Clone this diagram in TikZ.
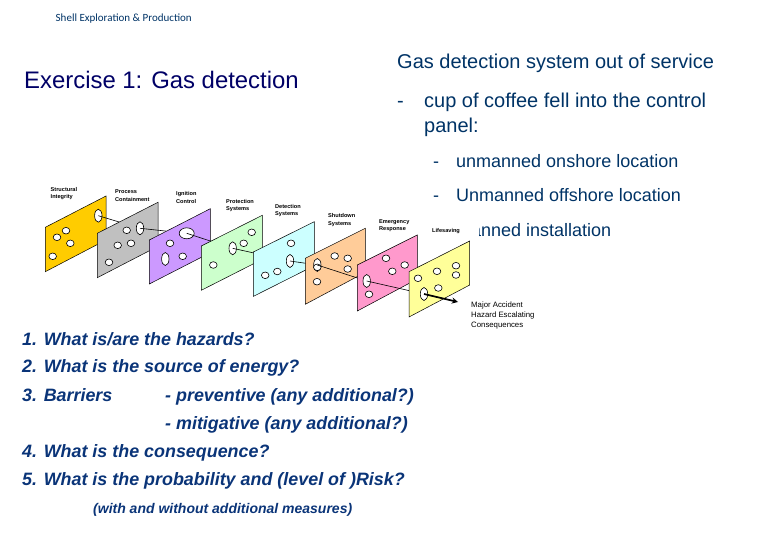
\documentclass[tikz,border=0pt]{standalone}
\usepackage{fontspec}
\setmainfont{Liberation Sans}
\newfontfamily\headfont{Carlito}
\usetikzlibrary{shapes.geometric}
\definecolor{navy}{HTML}{000066}
\definecolor{slideblue}{HTML}{003366}
\definecolor{boldblue}{HTML}{0A3478}
\tikzset{
  panel/.style={draw=black, line width=0.5pt},
  hole/.style={ellipse, draw=black, fill=white, line width=0.6pt, inner sep=0pt, minimum width=7.6pt, minimum height=6.6pt},
  tallhole/.style={hole, minimum width=7.4pt, minimum height=13pt},
  link/.style={black, line width=0.6pt},
  txt/.style={anchor=base west, inner sep=0pt, text=slideblue, font=\fontsize{20}{24}\selectfont},
  subtxt/.style={txt, font=\fontsize{18}{22}\selectfont},
  question/.style={txt, text=boldblue, font=\fontsize{17.9}{21}\selectfont\bfseries\itshape},
  lbl/.style={anchor=west, inner sep=0pt, align=left, font=\fontsize{5.6}{7.4}\selectfont\bfseries}
}
\begin{document}
\begin{tikzpicture}[x=1pt,y=-1pt]
\useasboundingbox (0,0) rectangle (780,540);

% centres of the holes that the links run through
\coordinate (c1) at (98.3,215.7);
\coordinate (c2) at (140,228.3);
\coordinate (c3) at (186.7,233.3);
\coordinate (c4) at (232.7,248.3);
\coordinate (c5) at (290,261);
\coordinate (c6) at (317.3,265);
\coordinate (c7) at (366.7,281);
\coordinate (c8) at (424,294);
\coordinate (arrowend) at (458,302);

% titles
\node[anchor=base west, inner sep=0pt, text=slideblue, font=\headfont\fontsize{11}{13}\selectfont] (head) at (55.5,22) {Shell Exploration \& Production};
\node[txt, text=navy, font=\fontsize{23.9}{28}\selectfont] (title) at (24,89) {Exercise 1: Gas detection};
\node[txt] (gas) at (397,69) {Gas detection system out of service};
\node[txt] (dash1) at (397,108) {-};
\node[txt] (cup) at (424,108) {cup of coffee fell into the control};
\node[txt] (pnl) at (424,132.7) {panel:};
\node[subtxt] (dash2) at (433,168) {-};
\node[subtxt] (onshore) at (456,168) {unmanned onshore location};
\node[subtxt] (dash3) at (433,202) {-};
\node[subtxt] (offshore) at (456,202) {Unmanned offshore location};
\node[subtxt] (dash4) at (433,237) {-};
\node[subtxt] (install) at (456,237) {manned installation};

% yellow
\draw[panel, fill={rgb,255:red,255;green,204;blue,0}] (45.3,227.3)--++(60.7,-31.3)--++(0,44)--++(-60.7,31.7)--cycle;
\node[hole] (h11) at (66,230.7) {};
\node[hole] (h12) at (57,237.3) {};
\node[hole] (h13) at (70.3,243.3) {};
\node[hole] (h14) at (52.7,256.3) {};
\node[tallhole] (t1) at (c1) {};
\draw[link] (t1.center)--(c2);

% gray
\draw[panel, fill={rgb,255:red,192;green,192;blue,192}] (97.3,233.3)--++(60.7,-31)--++(0,44)--++(-60.7,31.4)--cycle;
\node[hole] (h21) at (126.7,230.3) {};
\node[hole] (h22) at (131,243.3) {};
\node[hole] (h23) at (117.7,245.3) {};
\node[hole] (h24) at (109,262.3) {};
\node[tallhole] (t2) at (c2) {};
\draw[link] (t2.center)--(c3);

% purple
\draw[panel, fill={rgb,255:red,204;green,153;blue,255}] (149.3,240)--++(61,-31.3)--++(0,44)--++(-61,31.3)--cycle;
\node[hole] (h31) at (170,243.3) {};
\node[hole] (h32) at (182.7,256.3) {};
\node[tallhole] (h33) at (165.3,259) {};
\node[hole, minimum width=15pt, minimum height=11pt] (t3) at (c3) {};
\draw[link] (t3.center)--(c4);

% green
\draw[panel, fill={rgb,255:red,204;green,255;blue,204}] (201.3,246)--++(61,-30.7)--++(0,44)--++(-61,31)--cycle;
\node[hole] (h41) at (251.7,232.3) {};
\node[hole] (h42) at (243.7,243.3) {};
\node[hole] (h43) at (213.3,265) {};
\node[tallhole] (t4) at (c4) {};
\draw[link] (t4.center)--(c5);

% cyan
\draw[panel, fill={rgb,255:red,204;green,255;blue,255}] (253.3,252)--++(61,-30.3)--++(0,44)--++(-61,30.7)--cycle;
\node[hole] (h51) at (291,243.3) {};
\node[hole] (h52) at (277.3,271.5) {};
\node[hole] (h53) at (265.2,275.3) {};
\node[tallhole] (t5) at (c5) {};
\draw[link] (t5.center)--(c6);

% peach
\draw[panel, fill={rgb,255:red,255;green,204;blue,153}] (305.3,258.3)--++(60,-30)--++(0,44)--++(-60,32)--cycle;
\node[hole] (h61) at (334.7,256) {};
\node[hole] (h62) at (347.7,258.3) {};
\node[hole] (h63) at (347.7,269) {};
\node[hole] (h64) at (317,281.7) {};
\node[tallhole] (t6) at (c6) {};
\node[hole] (h65) at (317.3,267.3) {};
\draw[link] (t6.center)--(c7);

% pink
\draw[panel, fill={rgb,255:red,255;green,153;blue,204}] (357.3,265)--++(60,-30)--++(0,44)--++(-60,32)--cycle;
\node[hole] (h71) at (386,258.3) {};
\node[hole] (h72) at (404.7,265) {};
\node[hole] (h73) at (392.3,271.3) {};
\node[hole] (h74) at (369,294.3) {};
\node[tallhole] (t7) at (c7) {};
\draw[link] (t7.center)--(c8);

% white patch of the last label, over the text
\node[lbl, fill=white, text width=43pt, minimum height=18pt, inner xsep=4pt] (life) at (428,231.5) {Lifesaving};

% light yellow
\draw[panel, fill={rgb,255:red,255;green,255;blue,153}] (409,271.7)--++(60.7,-30.7)--++(0,44)--++(-60.7,32)--cycle;
\node[hole] (h81) at (418,278.3) {};
\node[hole] (h82) at (437,271.3) {};
\node[hole] (h83) at (456,265.7) {};
\node[hole] (h84) at (456,275) {};
\node[hole] (h85) at (438.3,288) {};
\node[tallhole] (t8) at (c8) {};
\draw[-stealth, black, line width=1.7pt] (t8.center)--(arrowend);

% labels
\node[lbl] (l1) at (50.5,193.5) {Structural\\Integrity};
\node[lbl] (l2) at (115,195.5) {Process\\Containment};
\node[lbl] (l3) at (176,197.5) {Ignition\\Control};
\node[lbl] (l4) at (226,205.5) {Protection\\Systems};
\node[lbl] (l5) at (275,210.5) {Detection\\Systems};
\node[lbl] (l6) at (328,220) {Shutdown\\Systems};
\node[lbl] (l7) at (379,225.5) {Emergency\\Response};
\node[lbl, font=\fontsize{7.8}{9.6}\selectfont] (l9) at (471,315.5) {Major Accident\\Hazard Escalating\\Consequences};

% questions
\node[question] (q1) at (22,345) {1. What is/are the hazards?};
\node[question] (q2) at (22,373) {2. What is the source of energy?};
\node[question] (q3) at (22,401) {3. Barriers};
\node[question] (q3a) at (165,401) {- preventive (any additional?)};
\node[question] (q3b) at (165,429.7) {- mitigative (any additional?)};
\node[question] (q4) at (22,457) {4. What is the consequence?};
\node[question] (q5) at (22,485) {5. What is the probability and (level of )Risk?};
\node[question, font=\fontsize{14}{16}\selectfont\bfseries\itshape] (q6) at (93,513) {(with and without additional measures)};
\end{tikzpicture}
\end{document}
